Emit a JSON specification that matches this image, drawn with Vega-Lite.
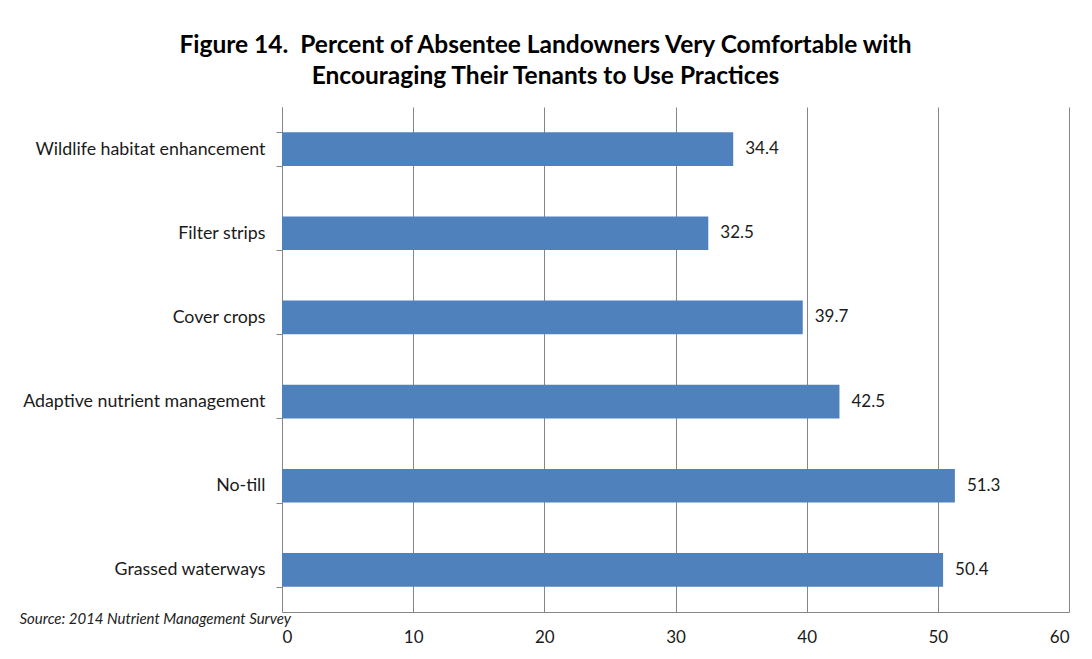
{
  "$schema": "https://vega.github.io/schema/vega-lite/v6.json",
  "width": 787,
  "height": 505,
  "autosize": {"type": "none"},
  "padding": {"left": 282, "top": 107, "right": 23, "bottom": 47},
  "background": "white",
  "config": {
    "font": "Lato",
    "view": {"stroke": null}
  },
  "title": {
    "text": ["Figure 14.\u00a0 Percent of Absentee Landowners Very Comfortable with", "Encouraging Their Tenants to Use Practices"],
    "fontSize": 24.5,
    "font": "Lato",
    "fontWeight": "bold",
    "color": "#000000",
    "anchor": "middle",
    "dx": -130,
    "offset": 9,
    "lineHeight": 31
  },
  "data": {
    "values": [
      {"practice": "Wildlife habitat enhancement", "pct": 34.4},
      {"practice": "Filter strips", "pct": 32.5},
      {"practice": "Cover crops", "pct": 39.7},
      {"practice": "Adaptive nutrient management", "pct": 42.5},
      {"practice": "No-till", "pct": 51.3},
      {"practice": "Grassed waterways", "pct": 50.4}
    ]
  },
  "encoding": {
    "y": {
      "field": "practice",
      "type": "nominal",
      "sort": null,
      "scale": {"paddingInner": 0.6, "paddingOuter": 0.3},
      "axis": {
        "title": null,
        "domainColor": "#868686",
        "tickColor": "#868686",
        "tickSize": 6,
        "tickBand": "extent",
        "labelFontSize": 17.8,
        "labelColor": "#1a1a1a",
        "labelPadding": 11,
        "labelLimit": 300
      }
    },
    "x": {
      "field": "pct",
      "type": "quantitative",
      "scale": {"domain": [0, 60], "nice": false},
      "axis": {
        "values": [0, 10, 20, 30, 40, 50, 60],
        "title": "Source: 2014 Nutrient Management Survey",
        "titleFontStyle": "italic",
        "titleFontWeight": "normal",
        "titleFontSize": 15,
        "titleColor": "#222222",
        "titleAnchor": "start",
        "titleAlign": "left",
        "titleBaseline": "middle",
        "titleX": -263,
        "titleY": 6,
        "ticks": false,
        "domainColor": "#868686",
        "gridColor": "#868686",
        "grid": true,
        "labelFontSize": 17,
        "labelColor": "#1a1a1a",
        "labelPadding": 17
      }
    }
  },
  "layer": [
    {"mark": {"type": "bar", "color": "#4F81BD"}},
    {
      "mark": {"type": "text", "align": "left", "baseline": "middle", "dx": 12, "fontSize": 17, "color": "#1a1a1a"},
      "encoding": {"text": {"field": "pct", "type": "quantitative", "format": ".1f"}}
    }
  ]
}
